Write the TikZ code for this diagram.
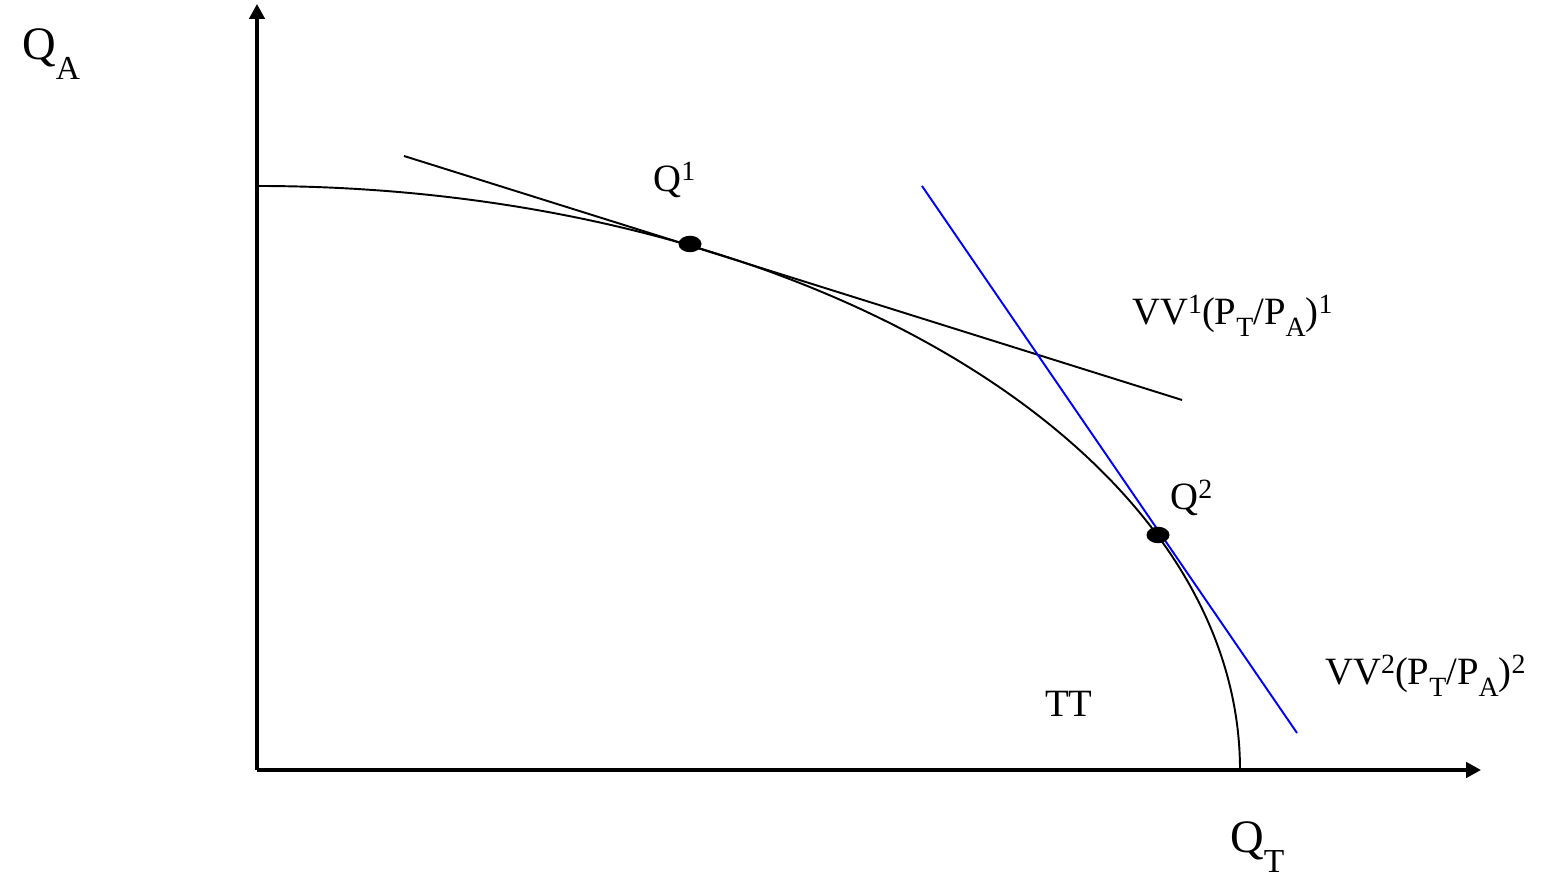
\documentclass[tikz,border=0pt]{standalone}
\usepackage{fontspec}
\setmainfont{Liberation Serif}
\usetikzlibrary{arrows.meta,shapes.geometric}
\newcommand\lo[1]{\raisebox{-0.3em}{\scalebox{0.72}{#1}}}
\newcommand\loA[1]{\raisebox{-0.42em}{\scalebox{0.72}{#1}}}
\newcommand\hi[1]{\raisebox{0.3em}{\scalebox{0.72}{#1}}}
\tikzset{
  axis/.style={line width=1.8pt,-{Triangle[length=0.3cm,width=0.31cm]}},
  curve/.style={line width=1.1pt},
  bluel/.style={line width=1.1pt,draw=blue},
  lbl/.style={inner sep=0pt,anchor=base west,font=\fontsize{22}{26}\selectfont},
  biglbl/.style={inner sep=0pt,anchor=base west,font=\fontsize{26.5}{30}\selectfont},
  dot/.style={ellipse,fill=black,inner sep=0pt,minimum width=0.46cm,minimum height=0.33cm}
}
\begin{document}
\begin{tikzpicture}[x=0.02cm,y=0.02cm]
\useasboundingbox (0,0) rectangle (1555,878);
\coordinate (O) at (257,108);
\coordinate (ytop) at (257,874);
\coordinate (xend) at (1481,108);
\coordinate (t1a) at (404,722);
\coordinate (t1b) at (1182,478);
\coordinate (t2a) at (922,692);
\coordinate (t2b) at (1297,145);
\coordinate (cstart) at (257,692);
\draw[axis] (O) -- (ytop);
\draw[axis] (O) -- (xend);
\draw[curve] (cstart) arc[start angle=90,end angle=0,x radius=983,y radius=584];
\draw[curve] (t1a) -- (t1b);
\draw[bluel] (t2a) -- (t2b);
\node[dot] (q1) at (690,634) {};
\node[dot] (q2) at (1158,343) {};
\node[biglbl] (lqa) at (22,818) {Q\loA{A}};
\node[lbl] (lq1) at (653,686) {Q\hi{1}};
\node[lbl] (lvv1) at (1132,553) {VV\hi{1}(P\lo{T}/P\lo{A})\hi{1}};
\node[lbl] (lq2) at (1170,368) {Q\hi{2}};
\node[lbl] (ltt) at (1045,161) {TT};
\node[lbl] (lvv2) at (1325,193) {VV\hi{2}(P\lo{T}/P\lo{A})\hi{2}};
\node[biglbl] (lqt) at (1230,25) {Q\loA{T}};
\end{tikzpicture}
\end{document}
